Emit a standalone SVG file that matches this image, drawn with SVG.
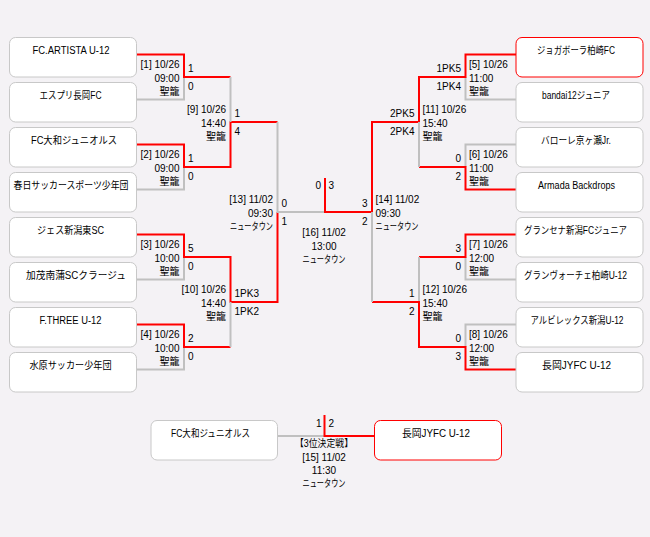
<svg xmlns="http://www.w3.org/2000/svg" width="650" height="537" viewBox="0 0 650 537">
<style>
.bg{fill:#F4F2F5}
.box{fill:#FFFFFF;stroke:#C8C8C8;stroke-width:1}
.win{fill:#FFFFFF;stroke:#FF0000;stroke-width:1}
.nm{font-family:"Liberation Sans","Noto Sans CJK JP",sans-serif;font-size:10px;fill:#000;text-anchor:middle}
.t{font-family:"Liberation Sans","Noto Sans CJK JP",sans-serif;font-size:10px;fill:#000}
.e{text-anchor:end}
.m{text-anchor:middle}
.g{fill:none;stroke:#C0C0C0;stroke-width:2}
.r{fill:none;stroke:#FF0000;stroke-width:2}
</style>
<rect class="bg" x="0" y="0" width="650" height="537"/>

<g id="connectors">
  <!-- left side -->
  <path class="g" d="M137 99.5H184V77"/>
  <path class="r" d="M137 54.5H184V77H230.5"/>
  <path class="g" d="M137 189.5H184V167"/>
  <path class="r" d="M137 144.5H184V167H230.5V122H277.5"/>
  <path class="g" d="M230.5 77V122"/>
  <path class="g" d="M137 279.5H184V257"/>
  <path class="r" d="M137 234.5H184V257H230.5V302H277.5V212"/>
  <path class="g" d="M137 369.5H184V347"/>
  <path class="r" d="M137 324.5H184V347H230.5"/>
  <path class="g" d="M230.5 347V302"/>
  <path class="g" d="M277.5 122V212H325"/>
  <!-- right side -->
  <path class="g" d="M516 99.5H465.5V77"/>
  <path class="r" d="M516 54.5H465.5V77H419V122H372V212H325V178"/>
  <path class="g" d="M516 144.5H465.5V167"/>
  <path class="r" d="M516 189.5H465.5V167H419"/>
  <path class="g" d="M419 167V122"/>
  <path class="g" d="M516 279.5H465.5V257"/>
  <path class="r" d="M516 234.5H465.5V257H419"/>
  <path class="g" d="M419 257V302"/>
  <path class="g" d="M516 324.5H465.5V347"/>
  <path class="r" d="M516 369.5H465.5V347H419V302H372"/>
  <path class="g" d="M372 302V212"/>
  <!-- third place -->
  <path class="g" d="M277.5 436H324.5"/>
  <path class="r" d="M374.5 436H324.5V415"/>
</g>

<g id="team-l1"><rect class="box" x="9.5" y="37.5" width="127" height="39.5" rx="6"/><text class="nm" x="71" y="53.5" textLength="77" lengthAdjust="spacingAndGlyphs">FC.ARTISTA U-12</text></g>
<g id="team-l2"><rect class="box" x="9.5" y="82.5" width="127" height="39.5" rx="6"/><text class="nm" x="70.5" y="98.5" textLength="62" lengthAdjust="spacingAndGlyphs">エスプリ長岡FC</text></g>
<g id="team-l3"><rect class="box" x="9.5" y="127.5" width="127" height="39.5" rx="6"/><text class="nm" x="74" y="143.5" textLength="86" lengthAdjust="spacingAndGlyphs">FC大和ジュニオルス</text></g>
<g id="team-l4"><rect class="box" x="9.5" y="172.5" width="127" height="39.5" rx="6"/><text class="nm" x="71" y="188.5" textLength="115" lengthAdjust="spacingAndGlyphs">春日サッカースポーツ少年団</text></g>
<g id="team-l5"><rect class="box" x="9.5" y="217.5" width="127" height="39.5" rx="6"/><text class="nm" x="70.5" y="233.5" textLength="67" lengthAdjust="spacingAndGlyphs">ジェス新潟東SC</text></g>
<g id="team-l6"><rect class="box" x="9.5" y="262.5" width="127" height="39.5" rx="6"/><text class="nm" x="76" y="278.5" textLength="100" lengthAdjust="spacingAndGlyphs">加茂南蒲SCクラージュ</text></g>
<g id="team-l7"><rect class="box" x="9.5" y="307.5" width="127" height="39.5" rx="6"/><text class="nm" x="70.5" y="323.5" textLength="62" lengthAdjust="spacingAndGlyphs">F.THREE U-12</text></g>
<g id="team-l8"><rect class="box" x="9.5" y="352.5" width="127" height="39.5" rx="6"/><text class="nm" x="70.5" y="368.5" textLength="82" lengthAdjust="spacingAndGlyphs">水原サッカー少年団</text></g>

<g id="team-r1"><rect class="win" x="516" y="37.5" width="127" height="39.5" rx="6"/><text class="nm" x="576" y="53.5" textLength="78" lengthAdjust="spacingAndGlyphs">ジョガボーラ柏崎FC</text></g>
<g id="team-r2"><rect class="box" x="516" y="82.5" width="127" height="39.5" rx="6"/><text class="nm" x="576" y="98.5" textLength="68" lengthAdjust="spacingAndGlyphs">bandai12ジュニア</text></g>
<g id="team-r3"><rect class="box" x="516" y="127.5" width="127" height="39.5" rx="6"/><text class="nm" x="576" y="143.5" textLength="70" lengthAdjust="spacingAndGlyphs">バローレ京ヶ瀬Jr.</text></g>
<g id="team-r4"><rect class="box" x="516" y="172.5" width="127" height="39.5" rx="6"/><text class="nm" x="576.5" y="188.5" textLength="77" lengthAdjust="spacingAndGlyphs">Armada Backdrops</text></g>
<g id="team-r5"><rect class="box" x="516" y="217.5" width="127" height="39.5" rx="6"/><text class="nm" x="575.5" y="233.5" textLength="103" lengthAdjust="spacingAndGlyphs">グランセナ新潟FCジュニア</text></g>
<g id="team-r6"><rect class="box" x="516" y="262.5" width="127" height="39.5" rx="6"/><text class="nm" x="575.5" y="278.5" textLength="103" lengthAdjust="spacingAndGlyphs">グランヴォーチェ柏崎U-12</text></g>
<g id="team-r7"><rect class="box" x="516" y="307.5" width="127" height="39.5" rx="6"/><text class="nm" x="577" y="323.5" textLength="93" lengthAdjust="spacingAndGlyphs">アルビレックス新潟U-12</text></g>
<g id="team-r8"><rect class="box" x="516" y="352.5" width="127" height="39.5" rx="6"/><text class="nm" x="576.5" y="368.5" textLength="69" lengthAdjust="spacingAndGlyphs">長岡JYFC U-12</text></g>

<g id="third-l"><rect class="box" x="151" y="420.5" width="126.5" height="39.5" rx="6"/><text class="nm" x="210.5" y="436.5" textLength="79" lengthAdjust="spacingAndGlyphs">FC大和ジュニオルス</text></g>
<g id="third-r"><rect class="win" x="374.5" y="420.5" width="127" height="39.5" rx="6"/><text class="nm" x="436" y="436.5" textLength="68" lengthAdjust="spacingAndGlyphs">長岡JYFC U-12</text></g>

<g id="labels-left">
  <text class="t e" x="179.5" y="68">[1] 10/26</text><text class="t e" x="179.5" y="81.5">09:00</text><text class="t e" x="179.5" y="95">聖籠</text>
  <text class="t" x="188" y="71.5">1</text><text class="t" x="188" y="89.5">0</text>
  <text class="t e" x="179.5" y="158">[2] 10/26</text><text class="t e" x="179.5" y="171.5">09:00</text><text class="t e" x="179.5" y="185">聖籠</text>
  <text class="t" x="188" y="161.5">1</text><text class="t" x="188" y="179.5">0</text>
  <text class="t e" x="179.5" y="248">[3] 10/26</text><text class="t e" x="179.5" y="261.5">10:00</text><text class="t e" x="179.5" y="275">聖籠</text>
  <text class="t" x="188" y="251.5">5</text><text class="t" x="188" y="269.5">0</text>
  <text class="t e" x="179.5" y="338">[4] 10/26</text><text class="t e" x="179.5" y="351.5">10:00</text><text class="t e" x="179.5" y="365">聖籠</text>
  <text class="t" x="188" y="341.5">2</text><text class="t" x="188" y="359.5">0</text>
  <text class="t e" x="226" y="113">[9] 10/26</text><text class="t e" x="226" y="126.5">14:40</text><text class="t e" x="226" y="140">聖籠</text>
  <text class="t" x="234.5" y="116.5">1</text><text class="t" x="234.5" y="134.5">4</text>
  <text class="t e" x="226" y="293">[10] 10/26</text><text class="t e" x="226" y="306.5">14:40</text><text class="t e" x="226" y="320">聖籠</text>
  <text class="t" x="234.5" y="296.5">1PK3</text><text class="t" x="234.5" y="314.5">1PK2</text>
  <text class="t e" x="273" y="203">[13] 11/02</text><text class="t e" x="273" y="216.5">09:30</text><text class="t e" x="273" y="230" textLength="43" lengthAdjust="spacingAndGlyphs">ニュータウン</text>
  <text class="t" x="281.5" y="206.5">0</text><text class="t" x="281.5" y="224.5">1</text>
</g>

<g id="labels-right">
  <text class="t" x="469" y="68">[5] 10/26</text><text class="t" x="469" y="81.5">11:00</text><text class="t" x="469" y="95">聖籠</text>
  <text class="t e" x="461" y="72">1PK5</text><text class="t e" x="461" y="89.5">1PK4</text>
  <text class="t" x="469" y="158">[6] 10/26</text><text class="t" x="469" y="171.5">11:00</text><text class="t" x="469" y="185">聖籠</text>
  <text class="t e" x="461" y="162">0</text><text class="t e" x="461" y="179.5">2</text>
  <text class="t" x="469" y="248">[7] 10/26</text><text class="t" x="469" y="261.5">12:00</text><text class="t" x="469" y="275">聖籠</text>
  <text class="t e" x="461" y="252">3</text><text class="t e" x="461" y="269.5">0</text>
  <text class="t" x="469" y="338">[8] 10/26</text><text class="t" x="469" y="351.5">12:00</text><text class="t" x="469" y="365">聖籠</text>
  <text class="t e" x="461" y="342">0</text><text class="t e" x="461" y="359.5">3</text>
  <text class="t" x="422.5" y="113">[11] 10/26</text><text class="t" x="422.5" y="126.5">15:40</text><text class="t" x="422.5" y="140">聖籠</text>
  <text class="t e" x="414.5" y="117">2PK5</text><text class="t e" x="414.5" y="134.5">2PK4</text>
  <text class="t" x="422.5" y="293">[12] 10/26</text><text class="t" x="422.5" y="306.5">15:40</text><text class="t" x="422.5" y="320">聖籠</text>
  <text class="t e" x="414.5" y="297">1</text><text class="t e" x="414.5" y="314.5">2</text>
  <text class="t" x="375.5" y="203">[14] 11/02</text><text class="t" x="375.5" y="216.5">09:30</text><text class="t" x="375.5" y="230" textLength="43" lengthAdjust="spacingAndGlyphs">ニュータウン</text>
  <text class="t e" x="367.5" y="207">3</text><text class="t e" x="367.5" y="224.5">2</text>
</g>

<g id="labels-final">
  <text class="t e" x="321" y="188.5">0</text><text class="t" x="328.5" y="188.5">3</text>
  <text class="t m" x="324" y="236">[16] 11/02</text>
  <text class="t m" x="324" y="249.5">13:00</text>
  <text class="t m" x="324" y="262.5" textLength="43" lengthAdjust="spacingAndGlyphs">ニュータウン</text>
</g>

<g id="labels-third">
  <text class="t e" x="321.5" y="427">1</text><text class="t" x="328.5" y="427">2</text>
  <text class="t m" x="324" y="447" textLength="58" lengthAdjust="spacingAndGlyphs">【3位決定戦】</text>
  <text class="t m" x="324" y="461">[15] 11/02</text>
  <text class="t m" x="324" y="474">11:30</text>
  <text class="t m" x="324" y="487" textLength="43" lengthAdjust="spacingAndGlyphs">ニュータウン</text>
</g>
</svg>
